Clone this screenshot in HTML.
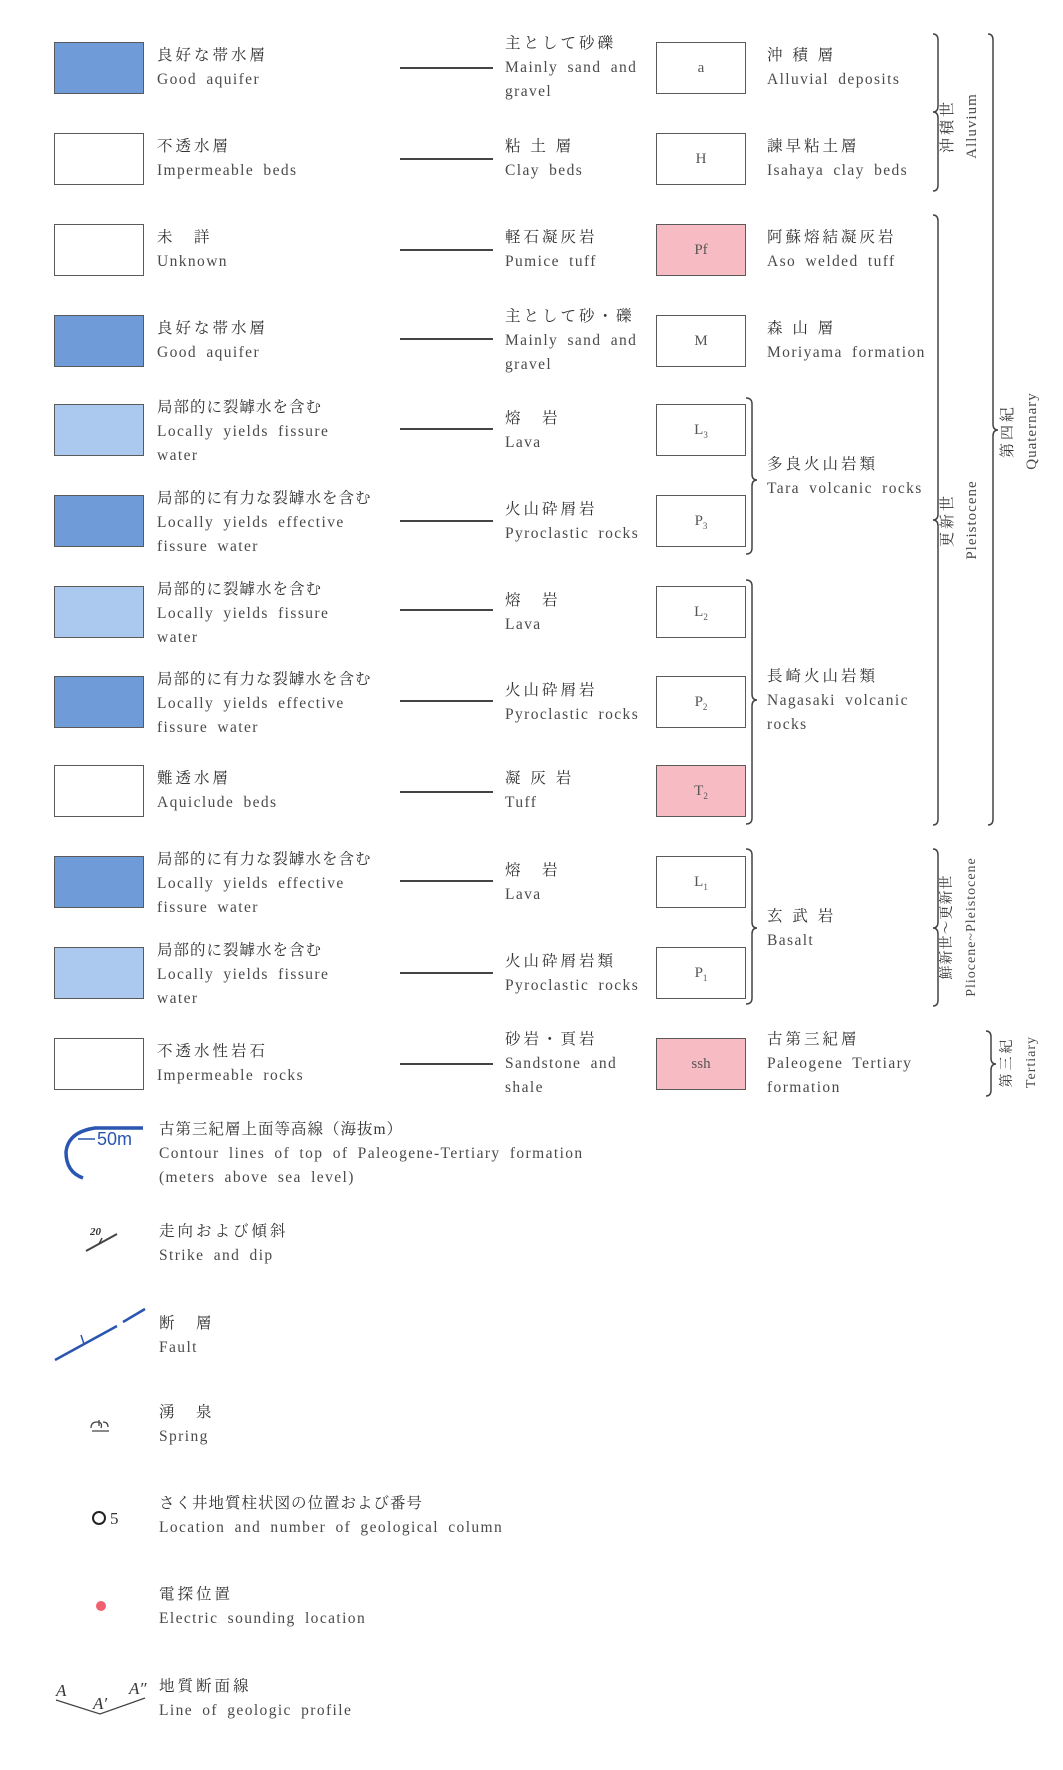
<!DOCTYPE html>
<html><head><meta charset="utf-8"><style>
body{margin:0;background:#fff;}
#p{position:relative;width:1063px;height:1770px;overflow:hidden;background:#fff;font-family:"Liberation Serif","Noto Serif CJK JP",serif;color:#4a4a4a;}
.b{position:absolute;width:88px;height:50px;border:1.5px solid #5a5a5a;box-sizing:content-box;}
.d{background:#6f9bd8;}
.l{background:#abc9ef;}
.k{background:#f7bcc3;}
.w{background:#fff;}
.r{left:656px;width:88px;font-size:15px;text-align:center;line-height:50px;color:#555;}
.t{position:absolute;font-size:15.5px;line-height:24px;letter-spacing:1.4px;word-spacing:4px;white-space:nowrap;}
.j{letter-spacing:3px;color:#333;word-spacing:0;}
.v{position:absolute;white-space:nowrap;font-size:15px;line-height:24px;transform:rotate(-90deg);transform-origin:center center;text-align:center;letter-spacing:1px;}
sub{font-size:9px;}
</style></head><body><div id="p">
<div class="b d" style="left:54px;top:42px"></div>
<div class="b w" style="left:54px;top:133px"></div>
<div class="b w" style="left:54px;top:224px"></div>
<div class="b d" style="left:54px;top:315px"></div>
<div class="b l" style="left:54px;top:404px"></div>
<div class="b d" style="left:54px;top:495px"></div>
<div class="b l" style="left:54px;top:586px"></div>
<div class="b d" style="left:54px;top:676px"></div>
<div class="b w" style="left:54px;top:765px"></div>
<div class="b d" style="left:54px;top:856px"></div>
<div class="b l" style="left:54px;top:947px"></div>
<div class="b w" style="left:54px;top:1038px"></div>
<div class="b w r" style="top:42px">a</div>
<div class="b w r" style="top:133px">H</div>
<div class="b k r" style="top:224px">Pf</div>
<div class="b w r" style="top:315px">M</div>
<div class="b w r" style="top:404px">L<sub>3</sub></div>
<div class="b w r" style="top:495px">P<sub>3</sub></div>
<div class="b w r" style="top:586px">L<sub>2</sub></div>
<div class="b w r" style="top:676px">P<sub>2</sub></div>
<div class="b k r" style="top:765px">T<sub>2</sub></div>
<div class="b w r" style="top:856px">L<sub>1</sub></div>
<div class="b w r" style="top:947px">P<sub>1</sub></div>
<div class="b k r" style="top:1038px">ssh</div>
<div class="t" style="left:157px;top:44px"><span class="j">良好な帯水層</span><br>Good aquifer</div>
<div class="t" style="left:157px;top:135px"><span class="j">不透水層</span><br>Impermeable beds</div>
<div class="t" style="left:157px;top:226px"><span class="j">未　詳</span><br>Unknown</div>
<div class="t" style="left:157px;top:317px"><span class="j">良好な帯水層</span><br>Good aquifer</div>
<div class="t" style="left:157px;top:396px"><span class="j" style="letter-spacing:1px">局部的に裂罅水を含む</span><br>Locally yields fissure<br>water</div>
<div class="t" style="left:157px;top:487px"><span class="j" style="letter-spacing:1px">局部的に有力な裂罅水を含む</span><br>Locally yields effective<br>fissure water</div>
<div class="t" style="left:157px;top:578px"><span class="j" style="letter-spacing:1px">局部的に裂罅水を含む</span><br>Locally yields fissure<br>water</div>
<div class="t" style="left:157px;top:668px"><span class="j" style="letter-spacing:1px">局部的に有力な裂罅水を含む</span><br>Locally yields effective<br>fissure water</div>
<div class="t" style="left:157px;top:767px"><span class="j">難透水層</span><br>Aquiclude beds</div>
<div class="t" style="left:157px;top:848px"><span class="j" style="letter-spacing:1px">局部的に有力な裂罅水を含む</span><br>Locally yields effective<br>fissure water</div>
<div class="t" style="left:157px;top:939px"><span class="j" style="letter-spacing:1px">局部的に裂罅水を含む</span><br>Locally yields fissure<br>water</div>
<div class="t" style="left:157px;top:1040px"><span class="j">不透水性岩石</span><br>Impermeable rocks</div>
<div class="t" style="left:505px;top:32px"><span class="j">主として砂礫</span><br>Mainly sand and<br>gravel</div>
<div class="t" style="left:505px;top:135px"><span class="j">粘 土 層</span><br>Clay beds</div>
<div class="t" style="left:505px;top:226px"><span class="j">軽石凝灰岩</span><br>Pumice tuff</div>
<div class="t" style="left:505px;top:305px"><span class="j">主として砂・礫</span><br>Mainly sand and<br>gravel</div>
<div class="t" style="left:505px;top:407px"><span class="j">熔　岩</span><br>Lava</div>
<div class="t" style="left:505px;top:498px"><span class="j">火山砕屑岩</span><br>Pyroclastic rocks</div>
<div class="t" style="left:505px;top:589px"><span class="j">熔　岩</span><br>Lava</div>
<div class="t" style="left:505px;top:679px"><span class="j">火山砕屑岩</span><br>Pyroclastic rocks</div>
<div class="t" style="left:505px;top:767px"><span class="j">凝 灰 岩</span><br>Tuff</div>
<div class="t" style="left:505px;top:859px"><span class="j">熔　岩</span><br>Lava</div>
<div class="t" style="left:505px;top:950px"><span class="j">火山砕屑岩類</span><br>Pyroclastic rocks</div>
<div class="t" style="left:505px;top:1028px"><span class="j">砂岩・頁岩</span><br>Sandstone and<br>shale</div>
<div class="t" style="left:767px;top:44px"><span class="j">沖 積 層</span><br>Alluvial deposits</div>
<div class="t" style="left:767px;top:135px"><span class="j">諫早粘土層</span><br>Isahaya clay beds</div>
<div class="t" style="left:767px;top:226px"><span class="j">阿蘇熔結凝灰岩</span><br>Aso welded tuff</div>
<div class="t" style="left:767px;top:317px"><span class="j">森 山 層</span><br>Moriyama formation</div>
<div class="t" style="left:767px;top:453px"><span class="j">多良火山岩類</span><br>Tara volcanic rocks</div>
<div class="t" style="left:767px;top:665px"><span class="j">長崎火山岩類</span><br>Nagasaki volcanic<br>rocks</div>
<div class="t" style="left:767px;top:905px"><span class="j">玄 武 岩</span><br>Basalt</div>
<div class="t" style="left:767px;top:1028px"><span class="j">古第三紀層</span><br>Paleogene Tertiary<br>formation</div>
<div class="v" style="left:890px;top:102px;width:140px;height:48px;"><span class="j">沖積世</span><br>Alluvium</div>
<div class="v" style="left:890px;top:496px;width:140px;height:48px;"><span class="j">更新世</span><br>Pleistocene</div>
<div class="v" style="left:950px;top:407px;width:140px;height:48px;"><span class="j">第四紀</span><br>Quaternary</div>
<div class="v" style="left:860px;top:903px;width:200px;height:48px;font-size:14px;"><span class="j" style="letter-spacing:1px">鮮新世～更新世</span><br>Pliocene~Pleistocene</div>
<div class="v" style="left:974px;top:1038px;width:92px;height:48px;font-size:14px;"><span class="j">第三紀</span><br>Tertiary</div>
<div class="t" style="left:159px;top:1118px"><span class="j" style="letter-spacing:1px">古第三紀層上面等高線（海抜m）</span><br>Contour lines of top of Paleogene-Tertiary formation<br>(meters above sea level)</div>
<div class="t" style="left:159px;top:1220px"><span class="j">走向および傾斜</span><br>Strike and dip</div>
<div class="t" style="left:159px;top:1312px"><span class="j">断　層</span><br>Fault</div>
<div class="t" style="left:159px;top:1401px"><span class="j">湧　泉</span><br>Spring</div>
<div class="t" style="left:159px;top:1492px"><span class="j" style="letter-spacing:1px">さく井地質柱状図の位置および番号</span><br>Location and number of geological column</div>
<div class="t" style="left:159px;top:1583px"><span class="j">電探位置</span><br>Electric sounding location</div>
<div class="t" style="left:159px;top:1675px"><span class="j">地質断面線</span><br>Line of geologic profile</div>
<svg width="1063" height="1770" style="position:absolute;left:0;top:0" fill="none" stroke="#444" stroke-width="1.5">
<g stroke-width="2">
<line x1="400" y1="68" x2="493" y2="68"/><line x1="400" y1="159" x2="493" y2="159"/>
<line x1="400" y1="250" x2="493" y2="250"/><line x1="400" y1="339" x2="493" y2="339"/>
<line x1="400" y1="429" x2="493" y2="429"/><line x1="400" y1="521" x2="493" y2="521"/>
<line x1="400" y1="610" x2="493" y2="610"/><line x1="400" y1="701" x2="493" y2="701"/>
<line x1="400" y1="792" x2="493" y2="792"/><line x1="400" y1="881" x2="493" y2="881"/>
<line x1="400" y1="973" x2="493" y2="973"/><line x1="400" y1="1064" x2="493" y2="1064"/>
</g>
<path d="M746 398 q6 0 6 6 V474 q0 6 5 6 q-5 0 -5 6 V548 q0 6 -6 6"/>
<path d="M746 580 q6 0 6 6 V694 q0 6 5 6 q-5 0 -5 6 V818 q0 6 -6 6"/>
<path d="M746 849 q6 0 6 6 V922 q0 6 5 6 q-5 0 -5 6 V998 q0 6 -6 6"/>
<path d="M933 34 q5 0 5 6 V106 q0 6 -5 6 q5 0 5 6 V185 q0 6 -5 6"/>
<path d="M933 215 q5 0 5 6 V514 q0 6 -5 6 q5 0 5 6 V819 q0 6 -5 6"/>
<path d="M988 34 q5 0 5 6 V424 q0 6 5 6 q-5 0 -5 6 V819 q0 6 -5 6"/>
<path d="M933 849 q5 0 5 6 V922 q0 6 -5 6 q5 0 5 6 V1000 q0 6 -5 6"/>
<path d="M986 1031 q5 0 5 6 V1058 q0 6 5 6 q-5 0 -5 6 V1090 q0 6 -5 6"/>
<path d="M143 1128 H95 Q68 1132 66 1152 Q66 1172 83 1178" stroke="#2a55b0" stroke-width="3.5"/>
<line x1="78" y1="1139" x2="95" y2="1139" stroke="#2a55b0" stroke-width="1.5"/>
<line x1="86" y1="1251" x2="117" y2="1234" stroke-width="2"/>
<line x1="99" y1="1244" x2="102" y2="1238"/>
<line x1="55" y1="1360" x2="117" y2="1326" stroke="#2a55b0" stroke-width="2.5"/>
<line x1="123" y1="1322" x2="145" y2="1309" stroke="#2a55b0" stroke-width="2.5"/>
<line x1="84" y1="1344" x2="81" y2="1335" stroke="#2a55b0"/>
<path d="M91 1428 q0 -6 6 -6 q6 0 4 6 M92 1431 h17 M99 1420 v6 M103 1422 q5 0 5 5" stroke-width="1.3"/>
<circle cx="99" cy="1518" r="6" stroke="#222" stroke-width="2"/>
<circle cx="101" cy="1606" r="5" fill="#f06070" stroke="none"/>
<path d="M56 1700 L100 1714 L145 1698" stroke-width="1.3"/>
</svg>
<div class="t" style="left:97px;top:1127px;font-family:'Liberation Sans',sans-serif;font-size:18px;color:#2a55b0;letter-spacing:0">50m</div>
<div class="t" style="left:90px;top:1220px;font-size:11px;font-style:italic;font-weight:bold;letter-spacing:0;color:#333">20</div>
<div class="t" style="left:110px;top:1507px;font-size:17px;color:#333">5</div>
<div class="t" style="left:56px;top:1679px;font-size:17px;font-style:italic;color:#333;letter-spacing:0">A</div>
<div class="t" style="left:93px;top:1692px;font-size:17px;font-style:italic;color:#333;letter-spacing:0">A′</div>
<div class="t" style="left:129px;top:1677px;font-size:17px;font-style:italic;color:#333;letter-spacing:0">A″</div>
</div></body></html>
